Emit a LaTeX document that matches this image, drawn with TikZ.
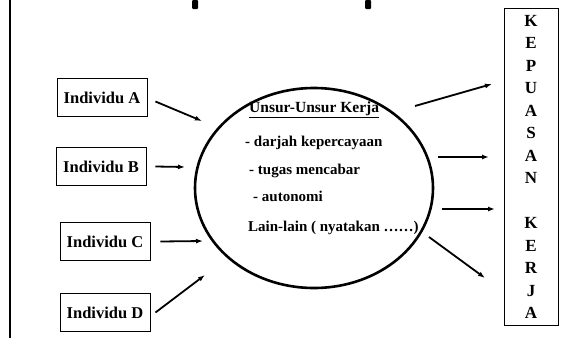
\documentclass[tikz,border=0pt]{standalone}
\usepackage{fontspec}
\setmainfont{Liberation Serif}
\usetikzlibrary{shapes.geometric,arrows.meta,positioning,calc}

\begin{document}
\begin{tikzpicture}[
        x=1pt, y=-1pt,
        indbox/.style={
            draw=black,
            line width=0.9pt,
            minimum width=90pt,
            minimum height=38pt,
            inner sep=0pt,
            font=\fontsize{16.5}{18}\bfseries
        },
        unsur/.style={
            ellipse,
            draw=black,
            line width=2.6pt,
            minimum width=238pt,
            minimum height=200pt
        },
        puasbox/.style={
            draw=black,
            line width=0.8pt,
            minimum width=54pt,
            minimum height=317pt,
            align=center,
            inner sep=0pt,
            font=\fontsize{17}{22.5}\bfseries
        },
        item/.style={anchor=west, inner sep=0pt, font=\fontsize{15}{16}\bfseries},
        arr/.style={-{Latex[length=7pt,width=5pt]}, line width=1.8pt}
    ]
        \useasboundingbox (0,0) rectangle (564,338);
        \draw[line width=1.8pt] (10,0) -- (10,338);
        % bits of the cut title
        \fill[rounded corners=1pt] (192,0) rectangle (198,9);
        \fill[rounded corners=1pt] (365,0) rectangle (371,9);

        \node[indbox] (indA) at (102,97.5) {Individu A};
        \node[indbox] (indB) at (101,166.5) {Individu B};
        \node[indbox] (indC) at (105,241.5) {Individu C};
        \node[indbox] (indD) at (105,312.5) {Individu D};

        \node[unsur] (kerja) at (314,188) {};
        \node[item, font=\fontsize{15.5}{16}\bfseries] (judul) at (249,110) {\underline{Unsur-Unsur Kerja}};
        \node[item] (darjah) at (245,143) {- darjah kepercayaan};
        \node[item] (tugas) at (249,171) {- tugas mencabar};
        \node[item] (auto) at (253,196) {- autonomi};
        \node[item] (lain) at (248,228) {Lain-lain ( nyatakan ……)};

        \node[puasbox] (puas) at (531,167) {K\\E\\P\\U\\A\\S\\A\\N\\[22.5pt]K\\E\\R\\J\\A};

        \coordinate (inA) at (202,121);
        \coordinate (inB) at (185,167);
        \coordinate (inC) at (203,241);
        \coordinate (inD) at (205,275);
        \coordinate (outA) at (492,84);
        \coordinate (outB) at (489,157);
        \coordinate (outC) at (495,209);
        \coordinate (outD) at (485,278);

        \draw[arr] ($(indA.east)+(8,4)$) -- (inA);
        \draw[arr] ($(indB.east)+(9,0)$) -- (inB);
        \draw[arr] ($(indC.east)+(10,0)$) -- (inC);
        \draw[arr] ($(indD.east)+(5,0)$) -- (inD);

        \draw[arr] (415,106) -- (outA);
        \draw[arr] (438,157) -- (outB);
        \draw[arr] (442,209) -- (outC);
        \draw[arr] (429,237) -- (outD);
    \end{tikzpicture}
\end{document}
